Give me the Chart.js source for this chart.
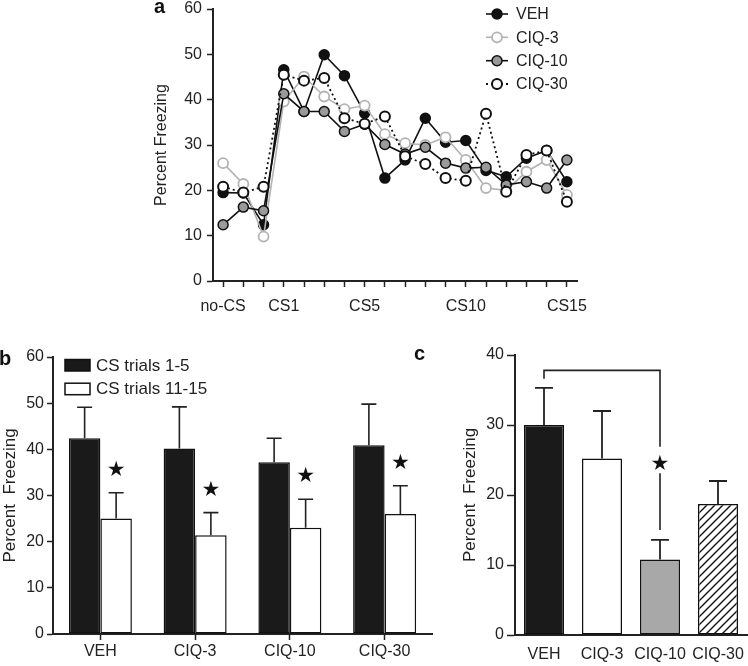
<!DOCTYPE html>
<html><head><meta charset="utf-8">
<script src="https://cdn.jsdelivr.net/npm/chart.js@4.4.1/dist/chart.umd.min.js"></script>
<style>
html,body{margin:0;padding:0;background:#fff;}
#wrap{position:relative;width:748px;height:666px;overflow:hidden;font-family:"Liberation Sans",Arial,sans-serif;background:#fff;}
canvas{position:absolute;}
.lbl{position:absolute;font-weight:bold;font-size:20px;line-height:20px;color:#111;}
</style></head><body>
<div id="wrap">
<canvas id="ca" width="470" height="322" style="left:130px;top:0px"></canvas>
<canvas id="cb" width="440" height="326" style="left:0px;top:340px"></canvas>
<canvas id="cc" width="308" height="326" style="left:440px;top:340px"></canvas>
<div class="lbl" style="left:154px;top:-4px">a</div>
<div class="lbl" style="left:-1px;top:348px">b</div>
<div class="lbl" style="left:414px;top:343px">c</div>
</div>
<script>
// ---- Panel a: freezing per trial ----
const trialLabels = ["no-CS","","","CS1","","","","CS5","","","","","CS10","","","","","CS15"];
const vehTrials   = [19.5,19.4,12.4,46.6,37.4,49.9,45.3,37.0,22.7,26.7,35.9,30.6,31.0,24.4,23.0,27.1,28.8,21.9];
const ciq3Trials  = [26.0,21.4,9.8,39.6,45.1,40.7,37.9,38.7,32.4,30.4,30.0,31.7,26.7,20.5,20.0,24.1,26.7,19.0];
const ciq10Trials = [12.4,16.3,15.5,41.3,37.4,37.4,33.0,34.6,30.1,28.0,29.5,26.0,24.9,25.1,21.2,21.9,20.5,26.7];
const ciq30Trials = [20.8,19.5,20.8,45.5,44.2,44.8,35.9,34.7,36.3,27.5,25.8,22.7,22.1,36.9,19.7,27.8,28.8,17.5];

// ---- Panel b: blocks of trials ----
const groupLabels = ["VEH","CIQ-3","CIQ-10","CIQ-30"];
const early    = [42.4,40.2,37.2,40.9];
const earlySem = [6.7,9.0,5.2,8.9];
const late     = [25.0,21.4,23.0,26.0];
const lateSem  = [5.6,4.9,6.2,6.1];
const lateSig  = [true,true,true,true];

// ---- Panel c: overall ----
const totalMean = [30.0,25.2,10.8,18.7];
const totalSem  = [5.3,6.8,2.8,3.3];

const FONT = '"Liberation Sans", Arial, sans-serif';
const TXT = '#222';
Chart.defaults.font.family = FONT;
Chart.defaults.color = TXT;
Chart.defaults.animation = false;

function axisY(min,max,width,tickLen,pad,title,titleSize,titlePad){
  return {min:min,max:max,afterFit(s){s.width=width;s.paddingTop=0;s.paddingBottom=0;},
    ticks:{stepSize:10,font:{size:16},padding:pad,color:TXT},
    grid:{display:true,drawOnChartArea:false,drawTicks:true,tickLength:tickLen,tickColor:TXT,tickWidth:1.5},
    border:{display:true,color:TXT,width:2},
    title:{display:true,text:title,font:{size:titleSize},color:TXT,padding:{top:titlePad,bottom:0}}};
}

// legend for panel a
const legendA = {id:'legendA',afterDraw(chart){
  const ctx = chart.ctx; const ca = chart.chartArea;
  const mx = ca.right - 80, tx = ca.right - 61;
  const rows = [14,37.3,60.7,84];
  chart.data.datasets.forEach((ds,i)=>{
    const y = rows[i];
    ctx.save();
    ctx.strokeStyle = ds.borderColor; ctx.lineWidth = ds.borderWidth;
    ctx.setLineDash(ds.borderDash||[]);
    ctx.beginPath(); ctx.moveTo(mx-11,y); ctx.lineTo(mx+11,y); ctx.stroke();
    ctx.setLineDash([]);
    ctx.beginPath(); ctx.arc(mx,y,5,0,Math.PI*2);
    ctx.fillStyle = ds.pointBackgroundColor; ctx.fill();
    ctx.lineWidth = ds.pointBorderWidth; ctx.strokeStyle = ds.pointBorderColor; ctx.stroke();
    ctx.fillStyle = TXT; ctx.font = '16px '+FONT; ctx.textBaseline='middle'; ctx.textAlign='left';
    ctx.fillText(ds.label, tx, y+1);
    ctx.restore();
  });
}};

new Chart(document.getElementById('ca'),{
  type:'line',
  data:{labels:trialLabels,datasets:[
    {label:'VEH',data:vehTrials,order:4,borderColor:'#111',borderWidth:1.6,pointRadius:5,pointBorderWidth:1.5,pointBackgroundColor:'#111',pointBorderColor:'#111',tension:0},
    {label:'CIQ-3',data:ciq3Trials,order:3,borderColor:'#b3b3b3',borderWidth:1.6,pointRadius:5,pointBorderWidth:1.8,pointBackgroundColor:'#fff',pointBorderColor:'#b3b3b3',tension:0},
    {label:'CIQ-10',data:ciq10Trials,order:2,borderColor:'#111',borderWidth:1.6,pointRadius:5,pointBorderWidth:1.5,pointBackgroundColor:'#9a9a9a',pointBorderColor:'#111',tension:0},
    {label:'CIQ-30',data:ciq30Trials,order:1,borderColor:'#111',borderWidth:1.8,borderDash:[2,3],pointRadius:5,pointBorderWidth:2,pointBackgroundColor:'#fff',pointBorderColor:'#111',tension:0}
  ]},
  options:{responsive:false,animation:false,
    layout:{autoPadding:false,padding:{left:0,top:9,right:23,bottom:0}},
    plugins:{legend:{display:false},tooltip:{enabled:false}},
    scales:{
      x:{type:'category',offset:true,afterFit(s){s.height=41;},
        grid:{display:true,drawOnChartArea:false,tickLength:6,tickColor:TXT,tickWidth:1.5,offset:false},
        border:{display:true,color:TXT,width:2},
        ticks:{autoSkip:false,maxRotation:0,font:{size:16},color:TXT,padding:10}},
      y:axisY(0,60,83,6,5,'Percent Freezing',16,22)
    }},
  plugins:[legendA]
});

// error bars helper
function drawErr(chart,dsIndex,sems,cap,lw){
  const ctx = chart.ctx, ys = chart.scales.y;
  const meta = chart.getDatasetMeta(dsIndex);
  const vals = chart.data.datasets[dsIndex].data;
  ctx.save(); ctx.strokeStyle = TXT; ctx.lineWidth = lw;
  meta.data.forEach((el,i)=>{
    const top = ys.getPixelForValue(vals[i]+sems[i]);
    ctx.beginPath(); ctx.moveTo(el.x,el.y); ctx.lineTo(el.x,top);
    ctx.moveTo(el.x-cap/2,top); ctx.lineTo(el.x+cap/2,top); ctx.stroke();
  });
  ctx.restore();
}
function star(ctx,x,y,size){
  ctx.save(); ctx.fillStyle='#111'; ctx.font = size+'px "DejaVu Sans"';
  ctx.textAlign='center'; ctx.textBaseline='middle'; ctx.fillText('\u2605',x,y); ctx.restore();
}

const extrasB = {id:'extrasB',afterDatasetsDraw(chart){
  drawErr(chart,0,earlySem,15,1.6);
  drawErr(chart,1,lateSem,15,1.6);
  const ys = chart.scales.y, meta = chart.getDatasetMeta(1);
  meta.data.forEach((el,i)=>{
    if(lateSig[i]) star(chart.ctx,el.x,ys.getPixelForValue(late[i]+lateSem[i]+4.8),21);
  });
  // legend
  const ctx = chart.ctx;
  chart.data.datasets.forEach((ds,i)=>{
    const y = 19.5 + i*23.7;
    ctx.save();
    ctx.fillStyle = ds.backgroundColor; ctx.fillRect(65,y,25,11.5);
    ctx.strokeStyle = '#111'; ctx.lineWidth=1.5; ctx.strokeRect(65,y,25,11.5);
    ctx.fillStyle = TXT; ctx.font='17px '+FONT; ctx.textBaseline='middle'; ctx.textAlign='left';
    ctx.fillText(ds.label,96,y+6.5);
    ctx.restore();
  });
}};

new Chart(document.getElementById('cb'),{
  type:'bar',
  data:{labels:groupLabels,datasets:[
    {label:'CS trials 1-5',data:early,backgroundColor:'#1a1a1a',borderColor:'#111',borderWidth:1.5,borderSkipped:false,categoryPercentage:0.665,barPercentage:1.0},
    {label:'CS trials 11-15',data:late,backgroundColor:'#ffffff',borderColor:'#111',borderWidth:1.5,borderSkipped:false,categoryPercentage:0.665,barPercentage:1.0}
  ]},
  options:{responsive:false,animation:false,
    layout:{padding:{left:0,top:17,right:8,bottom:0}},
    plugins:{legend:{display:false},tooltip:{enabled:false}},
    scales:{
      x:{afterFit(s){s.height=32;},
        grid:{display:true,drawOnChartArea:false,tickLength:6,tickColor:TXT,tickWidth:1.5,offset:false},
        border:{display:true,color:TXT,width:2},
        ticks:{font:{size:16},color:TXT,padding:2,maxRotation:0}},
      y:axisY(0,60,53,6,3,'Percent  Freezing',17,0)
    }},
  plugins:[extrasB]
});

// hatch pattern for CIQ-30
function hatch(target){
  const c=document.createElement('canvas'); c.width=8; c.height=8;
  const g=c.getContext('2d'); g.fillStyle='#fff'; g.fillRect(0,0,8,8);
  g.strokeStyle='#111'; g.lineWidth=1.4; g.beginPath();
  g.moveTo(-1,9); g.lineTo(9,-1); g.moveTo(-1,1); g.lineTo(1,-1); g.moveTo(7,9); g.lineTo(9,7); g.stroke();
  return target.getContext('2d').createPattern(c,'repeat');
}
const cc = document.getElementById('cc');

const extrasC = {id:'extrasC',afterDatasetsDraw(chart){
  drawErr(chart,0,totalSem,18,1.8);
  const ctx = chart.ctx, ys = chart.scales.y, meta = chart.getDatasetMeta(0);
  const xa = meta.data[0].x, xb = meta.data[2].x;
  const yTop = ys.getPixelForValue(37.8);
  ctx.save(); ctx.strokeStyle=TXT; ctx.lineWidth=1.6; ctx.beginPath();
  ctx.moveTo(xa,ys.getPixelForValue(36.6)); ctx.lineTo(xa,yTop); ctx.lineTo(xb,yTop);
  ctx.lineTo(xb,ys.getPixelForValue(26.9));
  ctx.moveTo(xb,ys.getPixelForValue(23.1)); ctx.lineTo(xb,ys.getPixelForValue(15.0));
  ctx.stroke(); ctx.restore();
  star(ctx,xb,ys.getPixelForValue(24.3),21);
}};

new Chart(cc,{
  type:'bar',
  data:{labels:groupLabels,datasets:[
    {label:'Overall',data:totalMean,
     backgroundColor:['#1a1a1a','#ffffff','#a8a8a8',hatch(cc)],
     borderColor:'#111',borderWidth:1.5,borderSkipped:false,categoryPercentage:1.0,barPercentage:0.69}
  ]},
  options:{responsive:false,animation:false,
    layout:{padding:{left:0,top:15,right:1,bottom:0}},
    plugins:{legend:{display:false},tooltip:{enabled:false}},
    scales:{
      x:{afterFit(s){s.height=31;},
        grid:{display:false},
        border:{display:true,color:TXT,width:2},
        ticks:{font:{size:16},color:TXT,padding:2,maxRotation:0,autoSkip:false}},
      y:axisY(0,40,75,8,3,'Percent  Freezing',17,20)
    }},
  plugins:[extrasC]
});
</script>
</body></html>
